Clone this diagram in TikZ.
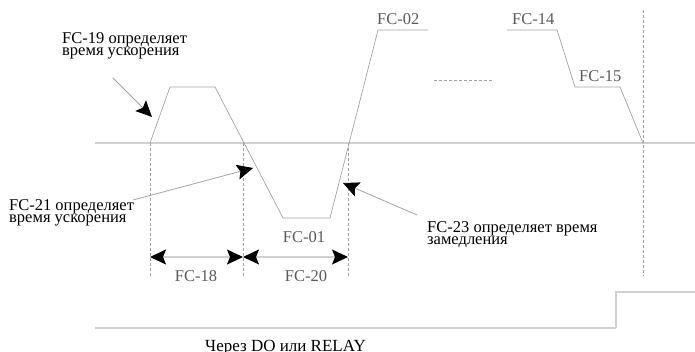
\documentclass[tikz,border=0pt]{standalone}
\usepackage{fontspec}
\setmainfont{Liberation Serif}
\usetikzlibrary{arrows.meta}
\definecolor{wave}{gray}{0.64}
\definecolor{axisc}{gray}{0.82}
\definecolor{lblc}{gray}{0.35}
\tikzset{
  headtip/.tip={Stealth[length=16pt,width=15pt,inset=3pt,color=black]},
  waveline/.style={draw=wave, line width=0.7pt},
  axisline/.style={draw=axisc, line width=1.6pt},
  guide/.style={draw=wave, line width=0.6pt, dash pattern=on 3pt off 2pt},
  pointer/.style={draw=wave, line width=0.8pt, -headtip},
  dim/.style={draw=axisc, line width=1.2pt, headtip-headtip},
  note/.style={inner sep=0pt, align=left, font=\fontsize{16.5}{12}\selectfont, anchor=north west},
  fclabel/.style={inner sep=0pt, text=lblc, font=\fontsize{16.5}{16}\selectfont, anchor=base},
}
\begin{document}
\begin{tikzpicture}[x=1pt,y=-1pt]
\useasboundingbox (0,0) rectangle (695,352);
% axes
\coordinate (axL) at (95,143); \coordinate (axR) at (695,143);
\coordinate (bL) at (95,328); \coordinate (bS) at (616,328);
\coordinate (bT) at (616,292); \coordinate (bR) at (695,292);
\draw[axisline] (axL) -- (axR);
\draw[axisline] (bL) -- (bS);
\draw[draw=axisc, line width=1.2pt] (bS) -- (bT) -- (bR);
% waveform
\coordinate (p0) at (150,143); \coordinate (p1) at (170,87);
\coordinate (p2) at (215,87); \coordinate (p3) at (283,218);
\coordinate (p4) at (330,218); \coordinate (p5) at (378,30);
\coordinate (p6) at (428,30);
\draw[waveline] (p0) -- (p1) -- (p2) -- (p3) -- (p4) -- (p5) -- (p6);
\coordinate (q0) at (507,30); \coordinate (q1) at (557,30);
\coordinate (q2) at (575,87); \coordinate (q3) at (620,87);
\coordinate (q4) at (643,143);
\draw[waveline] (q0) -- (q1) -- (q2) -- (q3) -- (q4);
\coordinate (d0) at (434,80); \coordinate (d1) at (494,80);
\draw[guide] (d0) -- (d1);
% guides
\coordinate (g1t) at (150,143); \coordinate (g1b) at (150,277);
\coordinate (g2t) at (243,143); \coordinate (g2b) at (243,277);
\coordinate (g3t) at (348,143); \coordinate (g3b) at (348,277);
\coordinate (g4t) at (643,10);  \coordinate (g4b) at (643,276);
\draw[guide] (g1t) -- (g1b);
\draw[guide] (g2t) -- (g2b);
\draw[guide] (g3t) -- (g3b);
\draw[guide] (g4t) -- (g4b);
% dimensions
\coordinate (m1) at (150,257); \coordinate (m2) at (243,257); \coordinate (m3) at (348,257);
\draw[dim] (m1) -- (m2);
\draw[dim] (m2) -- (m3);
% labels
\node[fclabel] (fc18) at (196,281) {FC-18};
\node[fclabel] (fc20) at (306,281) {FC-20};
\node[fclabel] (fc01) at (304,243) {FC-01};
\node[fclabel, anchor=base west] (fc02) at (377,25) {FC-02};
\node[fclabel, anchor=base west] (fc14) at (512,25) {FC-14};
\node[fclabel, anchor=base west] (fc15) at (579,82) {FC-15};
% notes
\node[note] (n19) at (62,32) {FC-19 определяет\\время ускорения};
\node[note] (n21) at (9,199) {FC-21 определяет\\время ускорения};
\node[note] (n23) at (427,221) {FC-23 определяет время\\замедления};
\node[inner sep=0pt, anchor=base west, font=\fontsize{17}{17}\selectfont] (relay) at (205,351) {Через DO или RELAY};
% pointers
\coordinate (a19s) at (113,78); \coordinate (a19e) at (152,117);
\coordinate (a21s) at (133,200); \coordinate (a21e) at (253,168);
\coordinate (a23s) at (417,215); \coordinate (a23e) at (343,183);
\draw[pointer] (a19s) -- (a19e);
\draw[pointer] (a21s) -- (a21e);
\draw[pointer] (a23s) -- (a23e);
\end{tikzpicture}
\end{document}
